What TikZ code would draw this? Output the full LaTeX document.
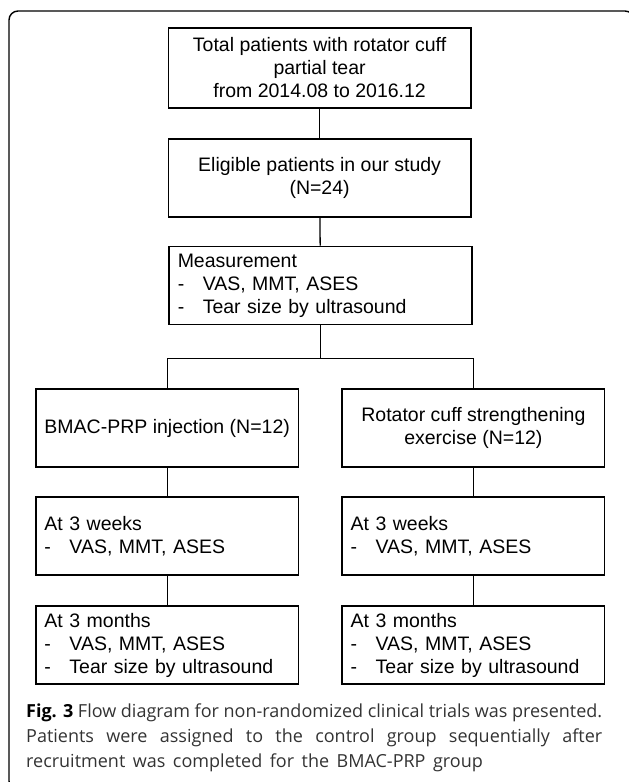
\documentclass[tikz,border=0pt]{standalone}
\usepackage{fontspec}
\setmainfont{Liberation Sans}
\newfontfamily\capfont{Open Sans}
\newcommand{\boxtext}{\fontsize{19.5pt}{23pt}\selectfont}
\newcommand{\captext}{\capfont\fontsize{18pt}{25pt}\selectfont}
\newcommand{\dashline}[1]{\makebox[25pt][l]{-}#1}
\tikzset{
  box/.style={draw, line width=1.6pt, minimum width=302.5pt, minimum height=78pt,
    inner sep=0pt, align=center, font=\boxtext},
  listbox/.style={box, align=left, text width=285.5pt, inner xsep=8.5pt},
  armbox/.style={box, minimum width=262.5pt},
  armlist/.style={listbox, minimum width=262.5pt, text width=245.5pt},
  link/.style={line width=1.3pt},
}
\begin{document}
\begin{tikzpicture}[x=1pt, y=-1pt]
  \useasboundingbox (0,0) rectangle (629,782);
  \clip (0,0) rectangle (629,782);
  % marco
  \draw[line width=1.4pt, rounded corners=9pt] (9,11) rectangle (634,790);
  % tronco comun
  \node[box, minimum height=80pt] (total) at (319.6,68)
    {Total patients with rotator cuff\\partial tear\\from 2014.08 to 2016.12};
  \node[box] (elig) at (319.6,178) {Eligible patients in our study\\(N=24)};
  \node[listbox] (meas) at (320.5,285.5)
    {Measurement\\\dashline{VAS, MMT, ASES}\\\dashline{Tear size by ultrasound}};
  % grupos
  \node[armbox] (bmac) at (167.2,428) {BMAC-PRP injection (N=12)};
  \node[armbox] (rot) at (473.4,428) {Rotator cuff strengthening\\exercise (N=12)};
  \node[armlist] (bweek) at (167.2,536) {At 3 weeks\\\dashline{VAS, MMT, ASES}};
  \node[armlist] (rweek) at (473.4,536) {At 3 weeks\\\dashline{VAS, MMT, ASES}};
  \node[armlist] (bmonth) at (167.2,645)
    {At 3 months\\\dashline{VAS, MMT, ASES}\\\dashline{Tear size by ultrasound}};
  \node[armlist] (rmonth) at (473.4,645)
    {At 3 months\\\dashline{VAS, MMT, ASES}\\\dashline{Tear size by ultrasound}};
  % conexiones
  \draw[link] (total) -- (elig);
  \draw[link] (elig) -- (meas);
  \draw[link] (meas.south) -- ++(0,33) coordinate (split);
  \draw[link] (bmac.north) |- (split) -| (rot.north);
  \draw[link] (bmac) -- (bweek);
  \draw[link] (bweek) -- (bmonth);
  \draw[link] (rot) -- (rweek);
  \draw[link] (rweek) -- (rmonth);
  % pie
  \node[anchor=north west, inner sep=0pt, text width=576pt, align=justify,
    font=\captext, text=black!80] (caption) at (26,704)
    {\textbf{\color{black}Fig. 3} Flow diagram for non-randomized clinical trials was presented.\linebreak
     Patients were assigned to the control group sequentially after\linebreak
     \spaceskip=7.5pt plus 2pt minus 1pt recruitment was completed for the BMAC-PRP group};
\end{tikzpicture}
\end{document}
